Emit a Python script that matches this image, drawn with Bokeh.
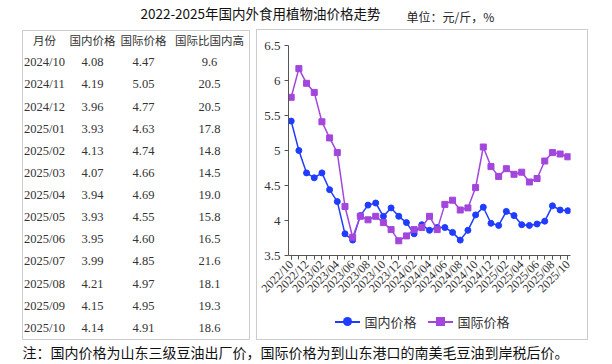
import math
from bokeh.plotting import figure
from bokeh.models import Range1d, FixedTicker, Spacer, Div
from bokeh.layouts import column, row
from bokeh.core.properties import value
from bokeh.embed import file_html
from bokeh.resources import INLINE

# ---------------- data ----------------
title_text = "2022-2025年国内外食用植物油价格走势"
unit_text = "单位：元/斤，%"
note_text = "注：国内价格为山东三级豆油出厂价，国际价格为到山东港口的南美毛豆油到岸税后价。"

months = ["2022/10", "2022/11", "2022/12", "2023/01", "2023/02", "2023/03", "2023/04",
          "2023/05", "2023/06", "2023/07", "2023/08", "2023/09", "2023/10", "2023/11",
          "2023/12", "2024/01", "2024/02", "2024/03", "2024/04", "2024/05", "2024/06",
          "2024/07", "2024/08", "2024/09", "2024/10", "2024/11", "2024/12", "2025/01",
          "2025/02", "2025/03", "2025/04", "2025/05", "2025/06", "2025/07", "2025/08",
          "2025/09", "2025/10"]
domestic = [5.42, 5.00, 4.68, 4.61, 4.68, 4.44, 4.27, 3.81, 3.72, 4.07, 4.22, 4.25, 4.06,
            4.18, 4.06, 3.97, 3.81, 3.94, 3.86, 3.90, 3.90, 3.83, 3.72, 3.86, 4.08, 4.19,
            3.96, 3.93, 4.13, 4.07, 3.94, 3.93, 3.95, 3.99, 4.21, 4.15, 4.14]
international = [5.76, 6.17, 5.96, 5.83, 5.41, 5.18, 4.97, 4.20, 3.76, 4.06, 4.01, 4.06, 3.97,
                 3.87, 3.71, 3.78, 3.87, 3.90, 4.06, 3.87, 4.23, 4.29, 4.15, 4.18, 4.47, 5.05,
                 4.77, 4.63, 4.74, 4.66, 4.69, 4.55, 4.60, 4.85, 4.97, 4.95, 4.91]
series_names = ["国内价格", "国际价格"]

table_header = ["月份", "国内价格", "国际价格", "国际比国内高"]
table_months = ["2024/10", "2024/11", "2024/12", "2025/01", "2025/02", "2025/03", "2025/04",
                "2025/05", "2025/06", "2025/07", "2025/08", "2025/09", "2025/10"]
table_domestic = [4.08, 4.19, 3.96, 3.93, 4.13, 4.07, 3.94, 3.93, 3.95, 3.99, 4.21, 4.15, 4.14]
table_international = [4.47, 5.05, 4.77, 4.63, 4.74, 4.66, 4.69, 4.55, 4.60, 4.85, 4.97, 4.95, 4.91]
table_gap = [9.6, 20.5, 20.5, 17.8, 14.8, 14.5, 19.0, 15.8, 16.5, 21.6, 18.1, 19.3, 18.6]

y_ticks = [3.5, 4.0, 4.5, 5.0, 5.5, 6.0, 6.5]
y_tick_labels = ["3.5", "4", "4.5", "5", "5.5", "6", "6.5"]

# ---------------- styles ----------------
CJK = value("Noto Sans CJK SC")
SERIF = value("Liberation Serif")
BLUE = "#1f3cff"
PURPLE = "#a346dc"
BOXC = "#cccccc"


def bare(width, height, xr, yr, **kw):
    f = figure(width=width, height=height, x_range=xr, y_range=yr, title=None,
               x_axis_type=None, y_axis_type=None, output_backend="svg",
               toolbar_location=None, **kw)
    f.outline_line_color = None
    return f


# ---------------- title strip ----------------
tf = bare(612, 29, Range1d(0, 612), Range1d(29, 0), frame_width=612, frame_height=29, min_border=0)
tf.text(x=[260], y=[12], text=[title_text], text_font=CJK, text_font_size="13.5px",
        text_align="center", text_baseline="middle", text_color="#111111")
tf.text(x=[450], y=[16], text=[unit_text], text_font=CJK, text_font_size="12px",
        text_align="center", text_baseline="middle", text_color="#222222")

# ---------------- table ----------------
tab = bare(252, 311, Range1d(0, 227), Range1d(13.525, -0.434),
           frame_width=227, frame_height=309,
           min_border_left=22, min_border_right=3, min_border_top=1, min_border_bottom=1)
tab.outline_line_color = BOXC
tab.outline_line_width = 1
col_x = [22, 70, 121, 187]
tab.text(x=col_x, y=[0] * 4, text=table_header, text_font=CJK, text_font_size="11.5px",
         text_align="center", text_baseline="middle", text_color="#333333")
rows = list(range(1, len(table_months) + 1))
cols_text = [table_months,
             [f"{v:.2f}" for v in table_domestic],
             [f"{v:.2f}" for v in table_international],
             [f"{v:.1f}" for v in table_gap]]
for cx, txt in zip(col_x, cols_text):
    tab.text(x=[cx] * len(rows), y=rows, text=txt, text_font=SERIF, text_font_size="12.5px",
             text_align="center", text_baseline="middle", text_color="#333333")

# ---------------- chart ----------------
xs = list(range(len(months)))
p = figure(width=330, height=275, x_range=Range1d(-0.35, 36.35), y_range=Range1d(3.5, 6.5),
           output_backend="svg", toolbar_location=None, title=None,
           frame_width=282, frame_height=210,
           min_border_left=31, min_border_right=17, min_border_top=15, min_border_bottom=50)
p.grid.visible = False
p.outline_line_color = None

p.line(xs, domestic, line_color=BLUE, line_width=1.5)
p.scatter(xs, domestic, marker="circle", size=6, fill_color=BLUE, line_color=BLUE)
p.line(xs, international, line_color=PURPLE, line_width=1.5)
p.scatter(xs, international, marker="square", size=6, fill_color=PURPLE, line_color=PURPLE)

xa = p.xaxis[0]
xa.ticker = FixedTicker(ticks=xs[::2], minor_ticks=xs)
xa.major_label_overrides = {i: months[i] for i in xs[::2]}
xa.major_label_orientation = math.pi / 4
xa.major_label_text_font = "Liberation Serif"
xa.major_label_text_font_size = "12px"
xa.major_label_text_color = "#333333"
xa.major_label_standoff = 3
xa.axis_line_color = "#555555"
xa.major_tick_line_color = "#555555"
xa.minor_tick_line_color = "#555555"
xa.major_tick_in = 0
xa.major_tick_out = 4
xa.minor_tick_in = 0
xa.minor_tick_out = 4

ya = p.yaxis[0]
ya.ticker = FixedTicker(ticks=y_ticks)
ya.major_label_overrides = {t: s for t, s in zip(y_ticks, y_tick_labels)}
ya.major_label_text_font = "Liberation Serif"
ya.major_label_text_font_size = "13px"
ya.major_label_text_color = "#333333"
ya.axis_line_color = "#555555"
ya.major_tick_line_color = "#555555"
ya.major_tick_in = 0
ya.major_tick_out = 4
ya.minor_tick_line_color = None
ya.major_label_standoff = 4

# ---------------- legend strip (HTML) ----------------
def key_html(color, name, round_marker, gap):
    radius = "50%" if round_marker else "0"
    return (
        f'<span style="display:inline-flex;align-items:center;margin-left:{gap}px;">'
        f'<span style="position:relative;display:inline-block;width:25px;height:2px;'
        f'background:{color};margin-right:5px;">'
        f'<span style="position:absolute;left:8px;top:-4px;width:9px;height:9px;'
        f'border-radius:{radius};background:{color};"></span></span>'
        f'<span style="display:inline-block;width:52px;">{name}</span></span>'
    )


legend_html = (
    '<div style="display:flex;justify-content:center;align-items:center;width:330px;'
    'height:34px;font-family:\'Noto Sans CJK SC\';font-size:13px;color:#333333;">'
    + key_html(BLUE, series_names[0], True, 0)
    + key_html(PURPLE, series_names[1], False, 11)
    + '</div>'
)
lf = Div(text=legend_html, width=330, height=34, styles={"margin": "0", "padding": "0"})

chart_box = column(p, lf, styles={"border": "1px solid #cccccc", "box-sizing": "content-box"})

# ---------------- footnote ----------------
nf = bare(612, 24, Range1d(0, 612), Range1d(24, 0), frame_width=612, frame_height=24, min_border=0)
nf.text(x=[22], y=[11], text=[note_text], text_font=CJK, text_font_size="14px",
        text_align="left", text_baseline="middle", text_color="#111111")

mid = row(tab, Spacer(width=4, height=311), chart_box)
layout = column(tf, mid, nf)

open("out.html", "w").write(file_html(layout, INLINE))
